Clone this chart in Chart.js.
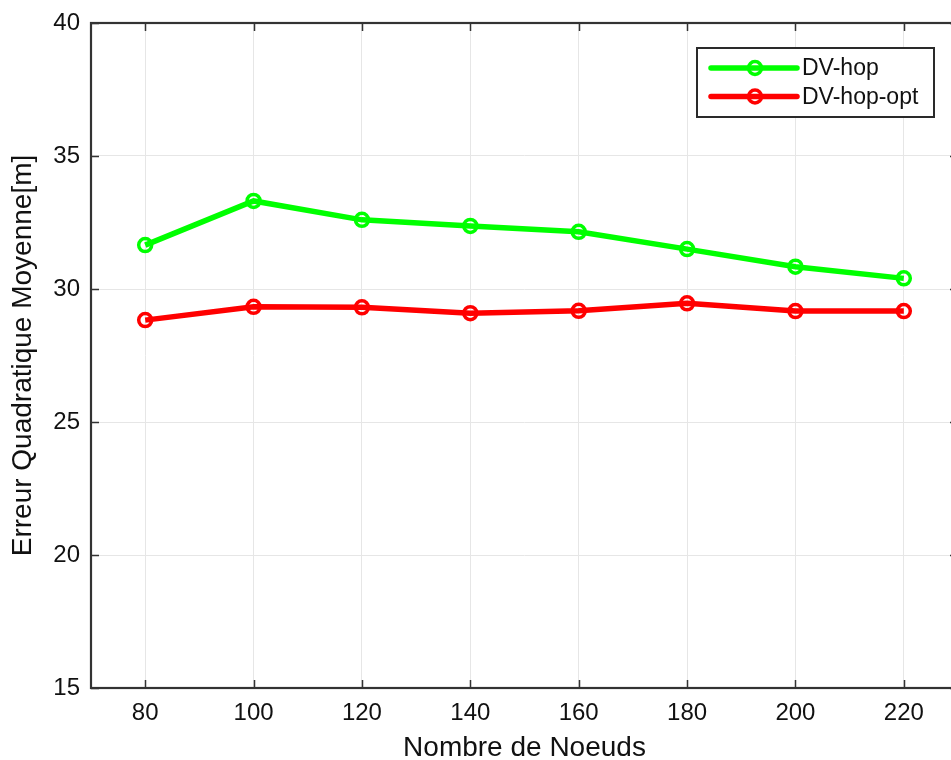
<!DOCTYPE html>
<html>
<head>
<meta charset="utf-8">
<script src="https://cdn.jsdelivr.net/npm/chart.js@4"></script>
<style>
html,body{margin:0;padding:0;background:#fff;overflow:hidden;width:951px;height:760px;}
#wrap{width:980px;height:760px;}
</style>
</head>
<body>
<div id="wrap"><canvas id="c" width="980" height="760"></canvas></div>
<script>
const nodes = [80, 100, 120, 140, 160, 180, 200, 220];
const dvHop = [31.65, 33.31, 32.60, 32.37, 32.15, 31.50, 30.84, 30.40];
const dvHopOpt = [28.83, 29.33, 29.31, 29.09, 29.18, 29.46, 29.17, 29.17];
const xTicks = [80, 100, 120, 140, 160, 180, 200, 220];
const yTicks = [15, 20, 25, 30, 35, 40];
const seriesLabels = ['DV-hop', 'DV-hop-opt'];
const xTitle = 'Nombre de Noeuds';
const yTitle = 'Erreur Quadratique Moyenne[m]';

const FONT = '"Liberation Sans", Arial, Helvetica, sans-serif';
const AXIS_COLOR = '#333333';

const boxPlugin = {
  id: 'boxPlugin',
  afterDatasetsDraw(chart) {
    const ctx = chart.ctx;
    const a = chart.chartArea;
    const xs = chart.scales.x, ys = chart.scales.y;
    ctx.save();
    ctx.strokeStyle = AXIS_COLOR;
    ctx.lineWidth = 1.5;
    ctx.beginPath();
    xs.ticks.forEach(t => {
      const px = Math.round(xs.getPixelForValue(t.value)) + 0.5;
      ctx.moveTo(px, a.bottom); ctx.lineTo(px, a.bottom - 8);
      ctx.moveTo(px, a.top); ctx.lineTo(px, a.top + 8);
    });
    ys.ticks.forEach(t => {
      const py = Math.round(ys.getPixelForValue(t.value)) + 0.5;
      ctx.moveTo(a.left, py); ctx.lineTo(a.left + 8, py);
      ctx.moveTo(a.right, py); ctx.lineTo(a.right - 8, py);
    });
    ctx.stroke();
    ctx.lineWidth = 2.2;
    ctx.strokeRect(a.left, a.top, a.right - a.left, a.bottom - a.top);
    ctx.restore();
  },
  afterDraw(chart) {
    const ctx = chart.ctx;
    const a = chart.chartArea;
    const bx = a.right - 261, by = a.top + 25, bw = 237, bh = 69;
    ctx.save();
    ctx.fillStyle = '#fff';
    ctx.fillRect(bx, by, bw, bh);
    ctx.strokeStyle = '#2a2a2a';
    ctx.lineWidth = 2;
    ctx.strokeRect(bx, by, bw, bh);
    chart.data.datasets.forEach((ds, i) => {
      const yy = by + 20 + i * 28.5;
      ctx.strokeStyle = ds.borderColor;
      ctx.lineWidth = 5.5;
      ctx.lineCap = 'round';
      ctx.beginPath();
      ctx.moveTo(bx + 14, yy); ctx.lineTo(bx + 100, yy);
      ctx.stroke();
      ctx.lineWidth = 3.5;
      ctx.beginPath();
      ctx.arc(bx + 58, yy, 6.5, 0, Math.PI * 2);
      ctx.stroke();
      ctx.fillStyle = '#111';
      ctx.font = '23px ' + FONT;
      ctx.textBaseline = 'middle';
      ctx.textAlign = 'left';
      ctx.fillText(ds.label, bx + 105, yy + 1);
    });
    ctx.restore();
  }
};

const makePts = arr => nodes.map((x, i) => ({x: x, y: arr[i]}));
const dsStyle = c => ({borderColor: c, backgroundColor: 'rgba(0,0,0,0)', borderWidth: 5.5,
  pointRadius: 6.5, pointBorderWidth: 3.5, pointBackgroundColor: 'rgba(0,0,0,0)', pointBorderColor: c, tension: 0});

new Chart(document.getElementById('c'), {
  type: 'line',
  data: {
    datasets: [
      Object.assign({label: seriesLabels[0], data: makePts(dvHop)}, dsStyle('#00ff00')),
      Object.assign({label: seriesLabels[1], data: makePts(dvHopOpt)}, dsStyle('#ff0000'))
    ]
  },
  options: {
    responsive: false,
    animation: false,
    devicePixelRatio: 1,
    layout: {padding: {top: 23, right: 22, left: 0, bottom: 0}},
    plugins: {legend: {display: false}, tooltip: {enabled: false}},
    scales: {
      x: {
        type: 'linear', min: 70, max: 230,
        afterBuildTicks: s => { s.ticks = xTicks.map(v => ({value: v})); },
        afterFit: s => { s.height = 72; s.paddingLeft = 0; s.paddingRight = 0; },
        grid: {color: '#e6e6e6', lineWidth: 1, drawTicks: false},
        border: {display: false},
        ticks: {color: '#111', font: {family: FONT, size: 24}, padding: 11, maxRotation: 0},
        title: {display: true, text: xTitle, color: '#111', font: {family: FONT, size: 28}, padding: {top: 0, bottom: -5}}
      },
      y: {
        type: 'linear', min: 15, max: 40,
        afterBuildTicks: s => { s.ticks = yTicks.map(v => ({value: v})); },
        afterFit: s => { s.width = 91; s.paddingTop = 0; s.paddingBottom = 0; },
        grid: {color: '#e6e6e6', lineWidth: 1, drawTicks: false},
        border: {display: false},
        ticks: {color: '#111', font: {family: FONT, size: 24}, padding: 11},
        title: {display: true, text: yTitle, color: '#111', font: {family: FONT, size: 28}, padding: {top: 6, bottom: 0}}
      }
    }
  },
  plugins: [boxPlugin]
});
</script>
</body>
</html>
